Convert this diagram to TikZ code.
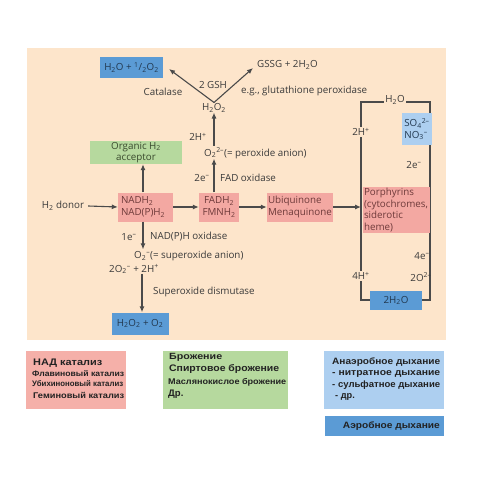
\documentclass[tikz,border=0pt]{standalone}
\usepackage{fontspec}
\setmainfont{Open Sans}
\newfontfamily\arialf{Liberation Sans}
\usepackage{graphicx}
\usetikzlibrary{arrows.meta}
\definecolor{beige}{HTML}{FDE5CB}
\definecolor{pinkbox}{HTML}{F3A8A2}
\definecolor{pinklight}{HTML}{F5B0A9}
\definecolor{greenbox}{HTML}{B6D99E}
\definecolor{bluebox}{HTML}{5B9BD5}
\definecolor{lightblue}{HTML}{ADCFF0}
\definecolor{ink}{HTML}{3A3A3A}
\definecolor{lineink}{HTML}{4A4A4A}
\definecolor{pinkink}{HTML}{6E3A3A}
\definecolor{greenink}{HTML}{3A4A2E}
\definecolor{blueink}{HTML}{22384F}
\definecolor{rusink}{HTML}{222222}
\newcommand\sbs[1]{\textsubscript{#1}}
\newcommand\sps[1]{\textsuperscript{#1}}
\newcommand\mfont{\fontsize{9.8}{11.7}\selectfont}
\newcommand\fitw[2]{\resizebox{#1}{\height}{#2}}
\newcommand\rf[1]{\arialf\bfseries\fontsize{#1}{#1}\selectfont}
\begin{document}
\begin{tikzpicture}[x=1pt,y=-1pt,
 lbl/.style={inner sep=0pt,text=ink,font=\mfont},
 pbox/.style={fill=pinkbox,inner sep=0pt,text=pinkink,font=\mfont,align=left},
 gbox/.style={fill=greenbox,inner sep=0pt,text=greenink,font=\mfont,align=center},
 bbox/.style={fill=bluebox,inner sep=0pt,text=blueink,font=\mfont,align=center},
 lbbox/.style={fill=lightblue,inner sep=0pt,text=blueink,font=\mfont,align=left},
 conn/.style={draw=lineink,line width=1.1pt,-{Latex[length=6pt,width=5pt]}},
 wire/.style={draw=lineink,line width=1.1pt},
 gaplbl/.style={fill=beige,inner sep=1.5pt,text=ink,font=\mfont},
 ruslbl/.style={inner sep=0pt,anchor=west,text=rusink}
]
\useasboundingbox (0,0) rectangle (481,481);
\fill[beige] (27,48) rectangle (446,340);

% ---------- right loop ----------
\coordinate (tl) at (361,102);
\coordinate (tr) at (430,102);
\coordinate (br) at (430,300);
\coordinate (bl) at (361,300);
\draw[wire] (tl) -- (tr) -- (br) -- (bl) -- cycle;
\node[gaplbl] (toph2o) at (395,100) {H\sbs{2}O};
\node[gaplbl] (twohp) at (361,132) {2H\sps{+}};
\node[gaplbl] (fourhp) at (361,276) {4H\sps{+}};
\node[lbbox,minimum width=30pt,minimum height=32pt] (so4) at (417,129) {SO\sbs{4}\sps{2–}\\NO\sbs{3}\sps{–}};
\node[pbox,minimum width=67pt,minimum height=46pt,text width=65pt] (porph) at (396.5,210) {Porphyrins\\(cytochromes,\\siderotic\\heme)};
\node[bbox,minimum width=52pt,minimum height=19pt] (water) at (396,300.5) {2H\sbs{2}O};
\node[lbl] (twoe) at (414,165) {2e\sps{–}};
\node[lbl] (foure) at (422,256) {4e\sps{–}};
\node[lbl] (twoo) at (421,277) {2O\sps{2–}};

% ---------- top part ----------
\node[bbox,minimum width=63pt,minimum height=21pt] (half) at (131.5,67.5) {H\sbs{2}O + \sps{1}/\sbs{2}O\sbs{2}};
\node[lbl,anchor=west] (gssg) at (257,65) {GSSG + 2H\sbs{2}O};
\node[lbl] (h2o2) at (214,108) {H\sbs{2}O\sbs{2}};
\node[lbl] (cat) at (163,92) {Catalase};
\node[lbl] (gsh) at (213,85) {2 GSH};
\node[lbl,anchor=west] (gpx) at (241,91) {e.g., glutathione peroxidase};
\coordinate (ca) at (169,69);
\coordinate (cg) at (253,68);
\draw[conn] ([yshift=1pt]h2o2.north) -- (ca);
\draw[conn] ([yshift=1pt]h2o2.north) -- (cg);

\node[lbl,anchor=west] (perox) at (204,153) {O\sbs{2}\sps{2–}(= peroxide anion)};
\draw[conn] ([yshift=1.5pt]perox.north -| h2o2) -- (h2o2.south);
\node[lbl] (twoh) at (198,137) {2H\sps{+}};

% ---------- middle row ----------
\node[lbl] (donor) at (63,206) {H\sbs{2} donor};
\node[pbox,minimum width=55pt,minimum height=29pt,text width=49pt] (nad) at (145.5,207) {NADH\sbs{2}\\NAD(P)H\sbs{2}};
\node[pbox,minimum width=40pt,minimum height=29pt,align=center] (fad) at (219,207) {FADH\sbs{2}\\FMNH\sbs{2}};
\node[pbox,minimum width=66pt,minimum height=29pt,text width=64pt] (ubi) at (300,207) {Ubiquinone\\Menaquinone};
\node[gbox,minimum width=92pt,minimum height=23pt] (org) at (136,152.5) {Organic H\sbs{2}\\acceptor};

\draw[conn] (donor.east) ++(4,0) coordinate (dstart) (dstart) -- (nad.west);
\draw[conn] (nad.east) -- (fad.west);
\draw[conn] (fad.east) -- (ubi.east -| ubi.west);
\draw[conn] (ubi.east) -- (ubi.east -| tl);
\draw[conn] ([xshift=-2.5pt]nad.north) -- ([xshift=-2.5pt]nad.north |- org.south);
\draw[conn] (fad.north -| h2o2) -- (perox.south -| h2o2);
\node[lbl] (twoe2) at (202,178) {2e\sps{–}};
\node[lbl,anchor=west] (fadox) at (220,178) {FAD oxidase};

% ---------- lower part ----------
\node[lbl,anchor=west] (superox) at (134,256) {O\sbs{2}\sps{–}(= superoxide anion)};
\draw[conn] ([xshift=-2.5pt]nad.south) -- ([xshift=-2.5pt,yshift=1.5pt]nad.south |- superox.north);
\node[lbl] (onee) at (129,237) {1e\sps{–}};
\node[lbl,anchor=west] (nadox) at (150,237) {NAD(P)H oxidase};
\node[lbl,anchor=west] (twoo2) at (109,269) {2O\sbs{2}\sps{–} + 2H\sps{+}};
\node[bbox,minimum width=57pt,minimum height=22pt] (h2o2o2) at (140,323.5) {H\sbs{2}O\sbs{2} + O\sbs{2}};
\draw[conn] (twoo2.south -| superox.west) ++(8,0) coordinate (sdstart) (sdstart) -- (sdstart |- h2o2o2.north);
\node[lbl,anchor=west] (sod) at (153,292) {Superoxide dismutase};

% ---------- legend boxes ----------
\fill[pinklight] (26,351) rectangle (126,409);
\fill[greenbox] (163,351) rectangle (288,409);
\fill[lightblue] (324,351) rectangle (444,409);
\fill[bluebox] (325,416) rectangle (444,436);

\node[ruslbl,font=\rf{9.5}] (l1) at (33,363) {\fitw{69pt}{НАД катализ}};
\node[ruslbl,font=\rf{8}] (l2) at (32,373.5) {\fitw{92pt}{Флавиновый катализ}};
\node[ruslbl,font=\rf{8}] (l3) at (32,384) {\fitw{91pt}{Убихиноновый катализ}};
\node[ruslbl,font=\rf{8.3}] (l4) at (33,395.5) {\fitw{91pt}{Геминовый катализ}};

\node[ruslbl,font=\rf{9}] (g1) at (169,357) {\fitw{53pt}{Брожение}};
\node[ruslbl,font=\rf{9.5}] (g2) at (169,369) {\fitw{110pt}{Спиртовое брожение}};
\node[ruslbl,font=\rf{8.3}] (g3) at (168,382) {\fitw{118pt}{Маслянокислое брожение}};
\node[ruslbl,font=\rf{9.5}] (g4) at (168,394) {Др.};

\node[ruslbl,font=\rf{9.2}] (b1) at (332,362) {\fitw{108pt}{Анаэробное дыхание}};
\node[ruslbl,font=\rf{9.2}] (b2) at (332,374) {\fitw{108pt}{- нитратное дыхание}};
\node[ruslbl,font=\rf{9.2}] (b3) at (332,385) {\fitw{108pt}{- сульфатное дыхание}};
\node[ruslbl,font=\rf{9.2}] (b4) at (335,397) {- др.};
\node[ruslbl,font=\rf{9.2},anchor=east] (a1) at (440,426) {\fitw{97pt}{Аэробное дыхание}};
\end{tikzpicture}
\end{document}
